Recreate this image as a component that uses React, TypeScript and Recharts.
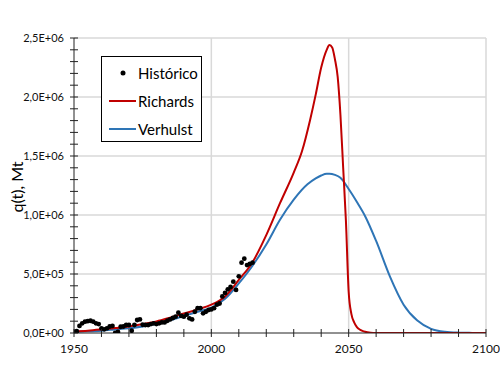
import React from 'react';
import {
  ComposedChart,
  Line,
  Scatter,
  XAxis,
  YAxis,
  CartesianGrid,
  Legend,
} from 'recharts';

// ---- Data (values in Mt) ----
const historicalYears = [
  1950, 1951, 1952, 1953, 1954, 1955, 1956, 1957, 1958, 1959,
  1960, 1961, 1962, 1963, 1964, 1965, 1966, 1967, 1968, 1969,
  1970, 1971, 1972, 1973, 1974, 1975, 1976, 1977, 1978, 1979,
  1980, 1981, 1982, 1983, 1984, 1985, 1986, 1987, 1988, 1989,
  1990, 1991, 1992, 1993, 1994, 1995, 1996, 1997, 1998, 1999,
  2000, 2001, 2002, 2003, 2004, 2005, 2006, 2007, 2008, 2009,
  2010, 2011, 2012, 2013, 2014, 2015,
];
const historicalValues = [
  10000, 15000, 60000, 82000, 96000, 100000, 104000, 96000, 82000, 76000,
  40000, 31000, 40000, 55000, 60000, 0, 10000, 53000, 55000, 68000,
  68000, 20000, 68000, 110000, 115000, 70000, 68000, 68000, 76000, 82000,
  76000, 82000, 90000, 90000, 104000, 115000, 127000, 138000, 172000, 145000,
  138000, 155000, 124000, 115000, 180000, 210000, 210000, 167000, 180000, 195000,
  200000, 210000, 240000, 250000, 310000, 340000, 370000, 390000, 435000, 365000,
  480000, 596000, 630000, 576000, 585000, 596000,
];

const richardsYears = [
  1950, 1955, 1960, 1965, 1970, 1975, 1980, 1985, 1990, 1995,
  2000, 2005, 2010, 2015, 2020, 2025, 2030, 2033, 2036, 2038,
  2040, 2042, 2043, 2044, 2045, 2046, 2047, 2048, 2049, 2050,
  2051, 2052, 2053, 2054, 2055, 2056, 2058, 2060, 2070, 2080,
  2090, 2100,
];
const richardsValues = [
  15000, 20000, 30000, 42000, 55000, 75000, 98000, 130000, 165000, 200000,
  240000, 310000, 450000, 600000, 830000, 1100000, 1360000, 1540000, 1810000, 2020000,
  2250000, 2400000, 2440000, 2420000, 2320000, 2170000, 1850000, 1400000, 950000, 350000,
  160000, 90000, 50000, 30000, 18000, 10000, 3000, 1000, 0, 0,
  0, 0,
];

const verhulstYears = [
  1950, 1955, 1960, 1965, 1970, 1975, 1980, 1985, 1990, 1995,
  2000, 2005, 2010, 2015, 2020, 2025, 2030, 2035, 2038, 2040,
  2042, 2043, 2045, 2047, 2050, 2053, 2056, 2060, 2065, 2070,
  2075, 2080, 2085, 2090, 2095, 2100,
];
const verhulstValues = [
  10000, 14000, 20000, 30000, 40000, 55000, 78000, 108000, 145000, 180000,
  215000, 290000, 420000, 570000, 750000, 960000, 1130000, 1260000, 1310000, 1335000,
  1350000, 1350000, 1340000, 1315000, 1220000, 1110000, 990000, 780000, 480000, 240000,
  105000, 35000, 10000, 3000, 1000, 0,
];

const xTicks = [1950, 1960, 1970, 1980, 1990, 2000, 2010, 2020, 2030, 2040, 2050, 2060, 2070, 2080, 2090, 2100];
const xMajor = [1950, 2000, 2050, 2100];
const yTicks = [
  0, 100000, 200000, 300000, 400000, 500000, 600000, 700000, 800000, 900000,
  1000000, 1100000, 1200000, 1300000, 1400000, 1500000, 1600000, 1700000, 1800000, 1900000,
  2000000, 2100000, 2200000, 2300000, 2400000, 2500000,
];
const yMajor = [0, 500000, 1000000, 1500000, 2000000, 2500000];

const seriesNames = ['Histórico', 'Richards', 'Verhulst'];
const yAxisTitle = 'q(t), Mt';
const RED = '#C00000';
const BLUE = '#2E75B6';
const FONT = 'Lato, "Open Sans", sans-serif';

const historicalData = historicalYears.map((year, i) => ({ year, value: historicalValues[i] }));
const richardsData = richardsYears.map((year, i) => ({ year, value: richardsValues[i] }));
const verhulstData = verhulstYears.map((year, i) => ({ year, value: verhulstValues[i] }));

function sci(v: number): string {
  if (v === 0) return '0,0E+00';
  const e = Math.floor(Math.log10(v) + 1e-9);
  const m = v / Math.pow(10, e);
  return `${m.toFixed(1).replace('.', ',')}E+${String(e).padStart(2, '0')}`;
}

const XTick = (props: any) => {
  const { x, y, payload } = props;
  const major = xMajor.includes(payload.value);
  return (
    <g>
      <line x1={x} x2={x} y1={y - 4} y2={y + 4} stroke="#222" strokeWidth={1} />
      {major && (
        <text x={x} y={y + 20} textAnchor="middle" fontSize={12} fontFamily={FONT} fill="#111">
          {payload.value}
        </text>
      )}
    </g>
  );
};

const YTick = (props: any) => {
  const { x, y, payload } = props;
  const major = yMajor.includes(payload.value);
  return (
    <g>
      <line x1={x - 4} x2={x + 4} y1={y} y2={y} stroke="#222" strokeWidth={1} />
      {major && (
        <text x={x - 10} y={y + 4} textAnchor="end" fontSize={11} fontFamily={FONT} fill="#111">
          {sci(payload.value)}
        </text>
      )}
    </g>
  );
};

const LegendBox = () => (
  <div
    style={{
      width: 99,
      height: 84,
      border: '1px solid #000',
      background: '#fff',
      fontFamily: FONT,
      fontSize: 15,
      color: '#000',
      position: 'relative',
    }}
  >
    {seriesNames.map((name, i) => (
      <div key={name} style={{ position: 'absolute', left: 0, top: 5 + i * 28, height: 22, width: 99 }}>
        <svg width={36} height={22} style={{ position: 'absolute', left: 0, top: 0 }}>
          {i === 0 ? (
            <circle cx={21} cy={11} r={2.5} fill="#000" />
          ) : (
            <line x1={7} x2={34} y1={11} y2={11} stroke={i === 1 ? RED : BLUE} strokeWidth={2} />
          )}
        </svg>
        <span style={{ position: 'absolute', left: 36, top: 1, lineHeight: '20px' }}>{name}</span>
      </div>
    ))}
  </div>
);

export default function App() {
  return (
    <div style={{ position: 'absolute', left: 0, top: 0, width: 500, height: 388, background: '#fff' }}>
      <ComposedChart
        width={500}
        height={388}
        margin={{ top: 38, right: 14, bottom: 25, left: 10 }}
      >
        <CartesianGrid
          stroke="#d9d9d9"
          strokeWidth={1.5}
          horizontalValues={[500000, 1000000, 1500000, 2000000, 2500000]}
          verticalValues={[2000, 2050, 2100]}
        />
        <XAxis
          dataKey="year"
          type="number"
          domain={[1950, 2100]}
          ticks={xTicks}
          interval={0}
          tickLine={false}
          tickSize={0}
          tickMargin={0}
          axisLine={{ stroke: '#222', strokeWidth: 1 }}
          tick={<XTick />}
          height={30}
          allowDataOverflow
        />
        <YAxis
          type="number"
          domain={[0, 2500000]}
          ticks={yTicks}
          interval={0}
          tickLine={false}
          tickSize={0}
          tickMargin={0}
          axisLine={{ stroke: '#222', strokeWidth: 1 }}
          tick={<YTick />}
          width={64}
          allowDataOverflow
        />
        <Line
          data={verhulstData}
          dataKey="value"
          name="Verhulst"
          type="monotone"
          stroke={BLUE}
          strokeWidth={2}
          dot={false}
          activeDot={false}
          isAnimationActive={false}
        />
        <Line
          data={richardsData}
          dataKey="value"
          name="Richards"
          type="monotone"
          stroke={RED}
          strokeWidth={2}
          dot={false}
          activeDot={false}
          isAnimationActive={false}
        />
        <Scatter
          data={historicalData}
          dataKey="value"
          name="Histórico"
          fill="#000"
          shape={(p: any) => <circle cx={p.cx} cy={p.cy} r={2.4} fill="#000" />}
          isAnimationActive={false}
        />
        <Legend
          layout="vertical"
          align="center"
          verticalAlign="middle"
          content={<LegendBox />}
          wrapperStyle={{ left: 101, top: 56, width: 101, height: 86 }}
        />
      </ComposedChart>
      <div
        style={{
          position: 'absolute',
          left: 17 - 50,
          top: 187 - 10,
          width: 100,
          height: 20,
          lineHeight: '20px',
          textAlign: 'center',
          transform: 'rotate(-90deg)',
          fontFamily: FONT,
          fontSize: 16,
          whiteSpace: 'nowrap',
          color: '#000',
        }}
      >
        {yAxisTitle}
      </div>
    </div>
  );
}
